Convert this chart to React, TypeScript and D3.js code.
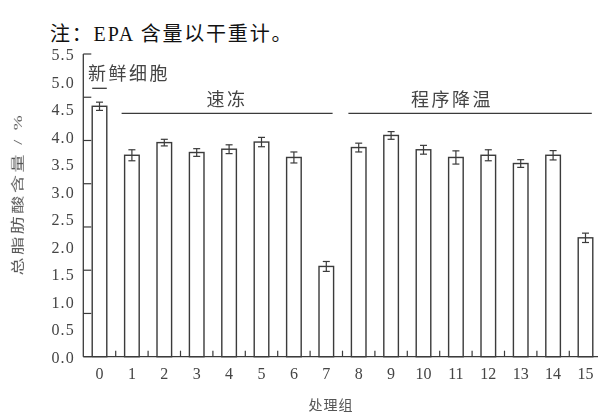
import React from "react";
import * as d3 from "d3";

// Treatment groups 0–15 and total fatty acid content (% dry weight)
const groups = ["0", "1", "2", "3", "4", "5", "6", "7", "8", "9", "10", "11", "12", "13", "14", "15"];
const contents = [4.55, 3.66, 3.89, 3.71, 3.77, 3.9, 3.62, 1.64, 3.8, 4.02, 3.76, 3.62, 3.66, 3.51, 3.66, 2.16];
const errors = [0.075, 0.1, 0.06, 0.07, 0.08, 0.085, 0.1, 0.09, 0.08, 0.07, 0.08, 0.12, 0.1, 0.07, 0.085, 0.085];

// y-axis labels and tick marks
const yLabels = [0, 0.5, 1, 1.5, 2, 2.5, 3, 3.5, 4, 4.5, 5, 5.5];
const yTickMarks = [0, 1, 2, 3, 4, 5, 6, 7].map((i) => (i * 5.5) / 7);

// treatment categories spanning group indices
const categoryNames = ["新鲜细胞", "速冻", "程序降温"];
const categoryFirst = [0, 1, 8];
const categoryLast = [0, 7, 15];

const W = 598;
const H = 416;
const X0 = 83.3;
const STEP = 32.4;
const Y0 = 356.7;
const YTOP = 54;

const serif = "'Liberation Serif', 'DejaVu Serif', serif";
const cjk = "'Noto Sans CJK SC', sans-serif";
const ink = "#3a3a3a";
const textInk = "#444";

export default function App() {
  const x = d3
    .scaleBand<string>()
    .domain(groups)
    .range([X0, X0 + STEP * groups.length])
    .paddingInner(0)
    .paddingOuter(0);
  const y = d3.scaleLinear().domain([0, 5.5]).range([Y0, YTOP]);
  const bw = x.bandwidth() * 0.45;
  const capW = 7;
  const cx = (g: string) => (x(g) as number) + x.bandwidth() / 2;

  return (
    <div style={{ position: "absolute", left: 0, top: 0 }}>
      <svg width={W} height={H} style={{ display: "block", background: "#fff" }}>
        <defs>
          <filter id="soft" x="-5%" y="-5%" width="110%" height="110%">
            <feGaussianBlur stdDeviation="0.45" />
          </filter>
        </defs>
        <rect width={W} height={H} fill="#fff" />

        <text x={50} y={41} fontFamily={`${serif}, ${cjk}`} fontSize={20} letterSpacing={1.8} fill="#111">
          <tspan fontFamily={cjk}>注：</tspan>
          <tspan fontFamily={serif}>EPA </tspan>
          <tspan fontFamily={cjk}>含量以干重计。</tspan>
        </text>

        <g filter="url(#soft)">
          {/* axes */}
          <line x1={X0} x2={X0} y1={Y0} y2={YTOP} stroke={ink} strokeWidth={1.3} />
          <line x1={X0} x2={W} y1={Y0} y2={Y0} stroke={ink} strokeWidth={1.3} />
          {yTickMarks.map((v, i) => (
            <line key={"yt" + i} x1={X0} x2={X0 + 8} y1={y(v)} y2={y(v)} stroke={ink} strokeWidth={1.2} />
          ))}
          {yLabels.map((v) => (
            <text
              key={"yl" + v}
              x={75}
              y={y(v) + 6}
              textAnchor="end"
              fontFamily={serif}
              fontSize={16}
              letterSpacing={1.2}
              fill={textInk}
            >
              {v.toFixed(1)}
            </text>
          ))}

          {/* band separators on the x axis */}
          {groups.map((g) => (
            <line
              key={"xt" + g}
              x1={(x(g) as number) + STEP}
              x2={(x(g) as number) + STEP}
              y1={Y0}
              y2={Y0 - 6}
              stroke={ink}
              strokeWidth={1.2}
            />
          ))}
          {groups.map((g) => (
            <text key={"xl" + g} x={cx(g)} y={379} textAnchor="middle" fontFamily={serif} fontSize={16} fill={textInk}>
              {g}
            </text>
          ))}

          {/* bars with error bars */}
          {groups.map((g, i) => {
            const c = cx(g);
            const top = y(contents[i]);
            const hi = y(contents[i] + errors[i]);
            const lo = y(contents[i] - errors[i]);
            return (
              <g key={"b" + g}>
                <rect x={c - bw / 2} y={top} width={bw} height={Y0 - top} fill="#fff" stroke={ink} strokeWidth={1.4} />
                <line x1={c} x2={c} y1={hi} y2={lo} stroke={ink} strokeWidth={1.2} />
                <line x1={c - capW / 2} x2={c + capW / 2} y1={hi} y2={hi} stroke={ink} strokeWidth={1.2} />
                <line x1={c - capW / 2} x2={c + capW / 2} y1={lo} y2={lo} stroke={ink} strokeWidth={1.2} />
              </g>
            );
          })}

          {/* treatment category brackets */}
          {categoryNames.map((name, k) => {
            const a = cx(groups[categoryFirst[k]]) - bw / 2;
            const b = cx(groups[categoryLast[k]]) + bw / 2;
            if (k === 0) {
              return (
                <g key={"c" + k}>
                  <line x1={a} x2={b} y1={88.3} y2={88.3} stroke={ink} strokeWidth={1.3} />
                  <text x={88} y={80} fontFamily={cjk} fontSize={18} letterSpacing={2.5} fill={textInk}>
                    {name}
                  </text>
                </g>
              );
            }
            const x1 = a - 3;
            const x2 = b - 1;
            const tx = k === 1 ? (x1 + x2) / 2 : 452;
            return (
              <g key={"c" + k}>
                <line x1={x1} x2={x2} y1={113.3} y2={113.3} stroke={ink} strokeWidth={1.3} />
                <text x={tx} y={106} textAnchor="middle" fontFamily={cjk} fontSize={18} letterSpacing={2.5} fill={textInk}>
                  {name}
                </text>
              </g>
            );
          })}

          {/* axis titles */}
          <text
            transform="translate(22,194) rotate(-90) scale(1,0.72)"
            textAnchor="middle"
            fontFamily={`${cjk}`}
            fontSize={18}
            letterSpacing={2.6}
            fill="#555"
          >
            总脂肪酸含量
            <tspan fontFamily={serif}> / %</tspan>
          </text>
          <text x={331} y={410} textAnchor="middle" fontFamily={cjk} fontSize={14} letterSpacing={1} fill="#555">
            处理组
          </text>
        </g>
      </svg>
    </div>
  );
}
